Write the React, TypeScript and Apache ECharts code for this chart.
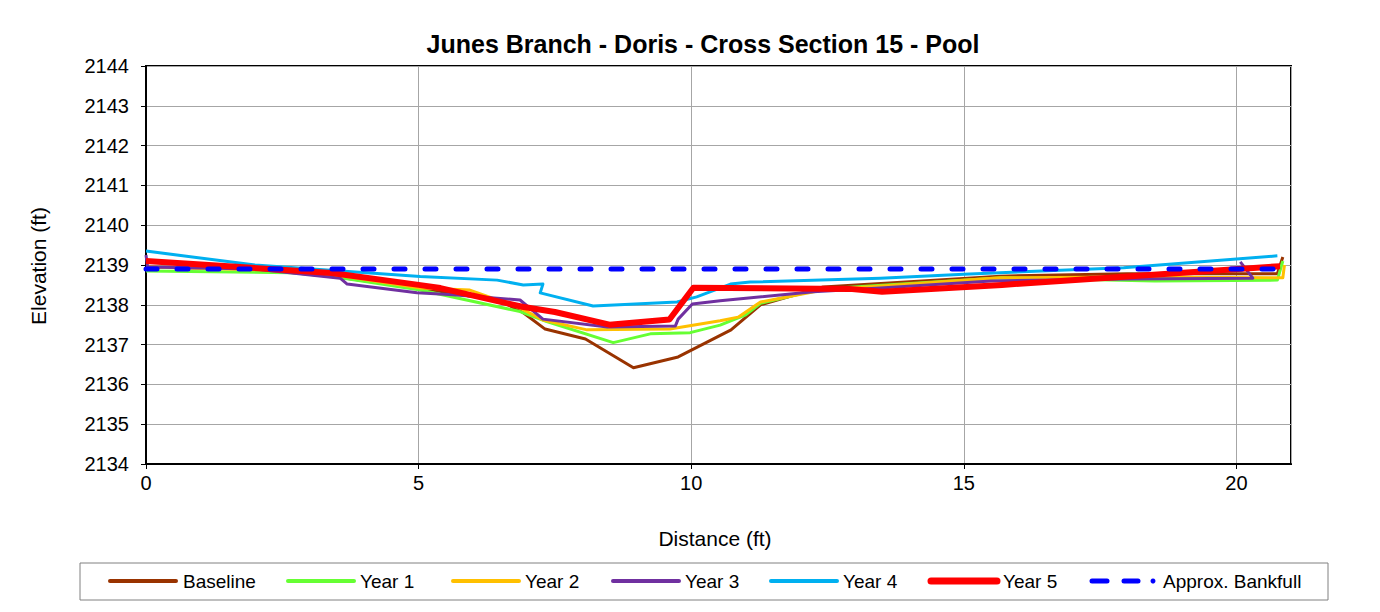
import React, { useEffect, useRef } from "react";
import * as echarts from "echarts";

const TITLE = "Junes Branch - Doris - Cross Section 15 - Pool";
const X_NAME = "Distance (ft)";
const Y_NAME = "Elevation (ft)";
const X_MIN = 0;
const X_MAX = 21;
const X_STEP = 5;
const Y_MIN = 2134;
const Y_MAX = 2144;
const Y_STEP = 1;

const SERIES_NAMES = ["Baseline", "Year 1", "Year 2", "Year 3", "Year 4", "Year 5", "Approx. Bankfull"];
const SERIES_COLORS = ["#993300", "#66FF33", "#FFC000", "#7030A0", "#00B0F0", "#FF0000", "#0000FF"];

const baseline: [number, number][] = [
  [0, 2138.95], [2, 2138.9], [3.5, 2138.7], [5, 2138.42], [6.5, 2138.1], [6.92, 2137.8],
  [7.32, 2137.39], [8.06, 2137.14], [8.94, 2136.42], [9.76, 2136.69], [10.73, 2137.37],
  [11.27, 2138.0], [12.42, 2138.45], [15.67, 2138.72], [18, 2138.78], [20.75, 2138.78], [20.85, 2139.2],
];
const year1: [number, number][] = [
  [0, 2138.85], [3, 2138.8], [5.03, 2138.37], [6.86, 2137.83], [7.35, 2137.58], [8.57, 2137.05],
  [9.25, 2137.27], [9.98, 2137.3], [10.53, 2137.49], [11.0, 2137.75], [11.27, 2138.04],
  [12.4, 2138.4], [15.7, 2138.68], [18.5, 2138.6], [20.75, 2138.62], [20.85, 2139.1],
];
const year2: [number, number][] = [
  [0, 2138.95], [3, 2138.85], [5.03, 2138.42], [5.94, 2138.37], [6.86, 2137.92], [7.28, 2137.62],
  [8.09, 2137.37], [9.61, 2137.39], [10.53, 2137.6], [10.86, 2137.69], [11.27, 2138.07],
  [12.42, 2138.37], [15.67, 2138.68], [18, 2138.7], [20.85, 2138.68], [20.88, 2139.0],
];
const year3: [number, number][] = [
  [0, 2139.25], [0.03, 2138.95], [2, 2138.9], [3.56, 2138.67], [3.69, 2138.52], [4.97, 2138.3],
  [5.63, 2138.25], [6.86, 2138.12], [7.28, 2137.64], [8.46, 2137.44], [9.71, 2137.47],
  [9.76, 2137.64], [10.02, 2138.02], [10.53, 2138.1], [12.24, 2138.33], [13.47, 2138.42],
  [15.5, 2138.6], [18, 2138.65], [20.3, 2138.67], [20.07, 2139.08],
];
const year4: [number, number][] = [
  [0, 2139.35], [2, 2139.0], [5.03, 2138.71], [6.44, 2138.62], [6.92, 2138.5], [7.28, 2138.52],
  [7.23, 2138.3], [8.2, 2137.97], [9.74, 2138.07], [10.1, 2138.2], [10.72, 2138.52],
  [11.08, 2138.57], [13.47, 2138.67], [15, 2138.77], [17.93, 2138.93], [20.75, 2139.23],
];
const year5: [number, number][] = [
  [0, 2139.1], [3.4, 2138.8], [5.0, 2138.5], [5.4, 2138.42], [6.9, 2137.95], [7.5, 2137.82],
  [8.5, 2137.5], [9.6, 2137.63], [10.04, 2138.43], [12.9, 2138.4], [13.5, 2138.33],
  [15.7, 2138.5], [20.8, 2138.97],
];
const bankfull: [number, number][] = [[0, 2138.9], [21, 2138.9]];

const SERIES_DATA = [baseline, year1, year2, year3, year4, year5, bankfull];
const SERIES_WIDTHS = [3, 3, 3, 3, 3, 6, 5];

// legend layout (pixel positions, not data)
const LEGEND_ICON_X = [110, 288, 453, 613, 771, 931, 1090];
const LEGEND_TEXT_X = [183, 360, 525, 685, 843, 1003, 1163];
const LEGEND_ICON_W = 66;
const LEGEND_Y = 581;

const FONT = 'Arial, "Liberation Sans", sans-serif';

export default function App() {
  const ref = useRef<HTMLDivElement>(null);

  useEffect(() => {
    if (!ref.current) return;
    const chart = echarts.init(ref.current, null, { renderer: "svg" });

    const series = SERIES_NAMES.map((name, i) => {
      const isBank = i === 6;
      return {
        name,
        type: "line",
        data: SERIES_DATA[i],
        symbol: "none",
        showSymbol: false,
        z: 2 + i,
        lineStyle: {
          color: SERIES_COLORS[i],
          width: SERIES_WIDTHS[i],
          type: isBank ? [11, 20] : "solid",
          cap: isBank ? "round" : "butt",
          join: "round",
        },
        itemStyle: { color: SERIES_COLORS[i] },
        emphasis: { disabled: true },
      };
    });

    const legendGraphics: any[] = [];
    SERIES_NAMES.forEach((name, i) => {
      const x0 = LEGEND_ICON_X[i];
      if (i === 6) {
        legendGraphics.push(
          {
            type: "line",
            shape: { x1: x0 + 2, y1: LEGEND_Y, x2: x0 + 17, y2: LEGEND_Y },
            style: { stroke: SERIES_COLORS[i], lineWidth: 5, lineCap: "round" },
            silent: true,
          },
          {
            type: "line",
            shape: { x1: x0 + 34, y1: LEGEND_Y, x2: x0 + 48, y2: LEGEND_Y },
            style: { stroke: SERIES_COLORS[i], lineWidth: 5, lineCap: "round" },
            silent: true,
          },
          {
            type: "circle",
            shape: { cx: x0 + 63, cy: LEGEND_Y, r: 2.5 },
            style: { fill: SERIES_COLORS[i] },
            silent: true,
          }
        );
      } else {
        legendGraphics.push({
          type: "line",
          shape: { x1: x0, y1: LEGEND_Y, x2: x0 + LEGEND_ICON_W, y2: LEGEND_Y },
          style: { stroke: SERIES_COLORS[i], lineWidth: SERIES_WIDTHS[i] + (i === 5 ? 1 : 1), lineCap: "round" },
          silent: true,
        });
      }
      legendGraphics.push({
        type: "text",
        x: LEGEND_TEXT_X[i],
        y: LEGEND_Y,
        style: {
          text: name,
          fill: "#000000",
          font: `19px ${FONT}`,
          textAlign: "left",
          textVerticalAlign: "middle",
        },
        silent: true,
      });
    });

    chart.setOption({
      animation: false,
      backgroundColor: "#ffffff",
      textStyle: { fontFamily: FONT },
      grid: {
        left: 146,
        top: 66,
        width: 1145,
        height: 398,
        show: true,
        borderColor: "#000000",
        borderWidth: 2,
        backgroundColor: "transparent",
        containLabel: false,
        outerBoundsMode: "none",
      },
      xAxis: {
        type: "value",
        min: X_MIN,
        max: X_MAX,
        interval: X_STEP,
        axisLine: { show: true, lineStyle: { color: "#000000", width: 2 } },
        axisTick: { show: true, length: 5, lineStyle: { color: "#000000" } },
        axisLabel: {
          color: "#000000",
          fontSize: 20,
          fontFamily: FONT,
          margin: 9,
          showMaxLabel: false,
          formatter: (v: number) => String(v),
        },
        splitLine: { show: true, lineStyle: { color: "#A6A6A6", width: 1 } },
      },
      yAxis: {
        type: "value",
        min: Y_MIN,
        max: Y_MAX,
        interval: Y_STEP,
        axisLine: { show: true, lineStyle: { color: "#000000", width: 2 } },
        axisTick: { show: true, length: 5, lineStyle: { color: "#000000" } },
        axisLabel: {
          color: "#000000",
          fontSize: 20,
          fontFamily: FONT,
          margin: 17,
          formatter: (v: number) => String(v),
        },
        splitLine: { show: true, lineStyle: { color: "#A6A6A6", width: 1 } },
      },
      legend: { show: false },
      graphic: [
        {
          type: "rect",
          shape: { x: 80, y: 563, width: 1248, height: 37 },
          style: { fill: "none", stroke: "#808080", lineWidth: 1 },
          silent: true,
        },
        ...legendGraphics,
        {
          type: "text",
          x: 703,
          y: 44,
          style: {
            text: TITLE,
            fill: "#000000",
            font: `bold 25px ${FONT}`,
            textAlign: "center",
            textVerticalAlign: "middle",
          },
        },
        {
          type: "text",
          x: 715,
          y: 538,
          style: {
            text: X_NAME,
            fill: "#000000",
            font: `21px ${FONT}`,
            textAlign: "center",
            textVerticalAlign: "middle",
          },
        },
        {
          type: "text",
          x: 38,
          y: 266,
          rotation: Math.PI / 2,
          style: {
            text: Y_NAME,
            fill: "#000000",
            font: `21px ${FONT}`,
            textAlign: "center",
            textVerticalAlign: "middle",
          },
        },
      ],
      series,
    });

    return () => {
      chart.dispose();
    };
  }, []);

  return (
    <div style={{ position: "fixed", left: 0, top: 0, width: 1380, height: 612, overflow: "hidden", background: "#ffffff" }}>
      <div
        style={{
          position: "absolute",
          left: 8,
          top: 7,
          width: 1420,
          height: 700,
          border: "4px solid #000000",
          boxSizing: "border-box",
        }}
      />
      <div ref={ref} style={{ position: "absolute", left: 0, top: 0, width: 1380, height: 612 }} />
    </div>
  );
}
